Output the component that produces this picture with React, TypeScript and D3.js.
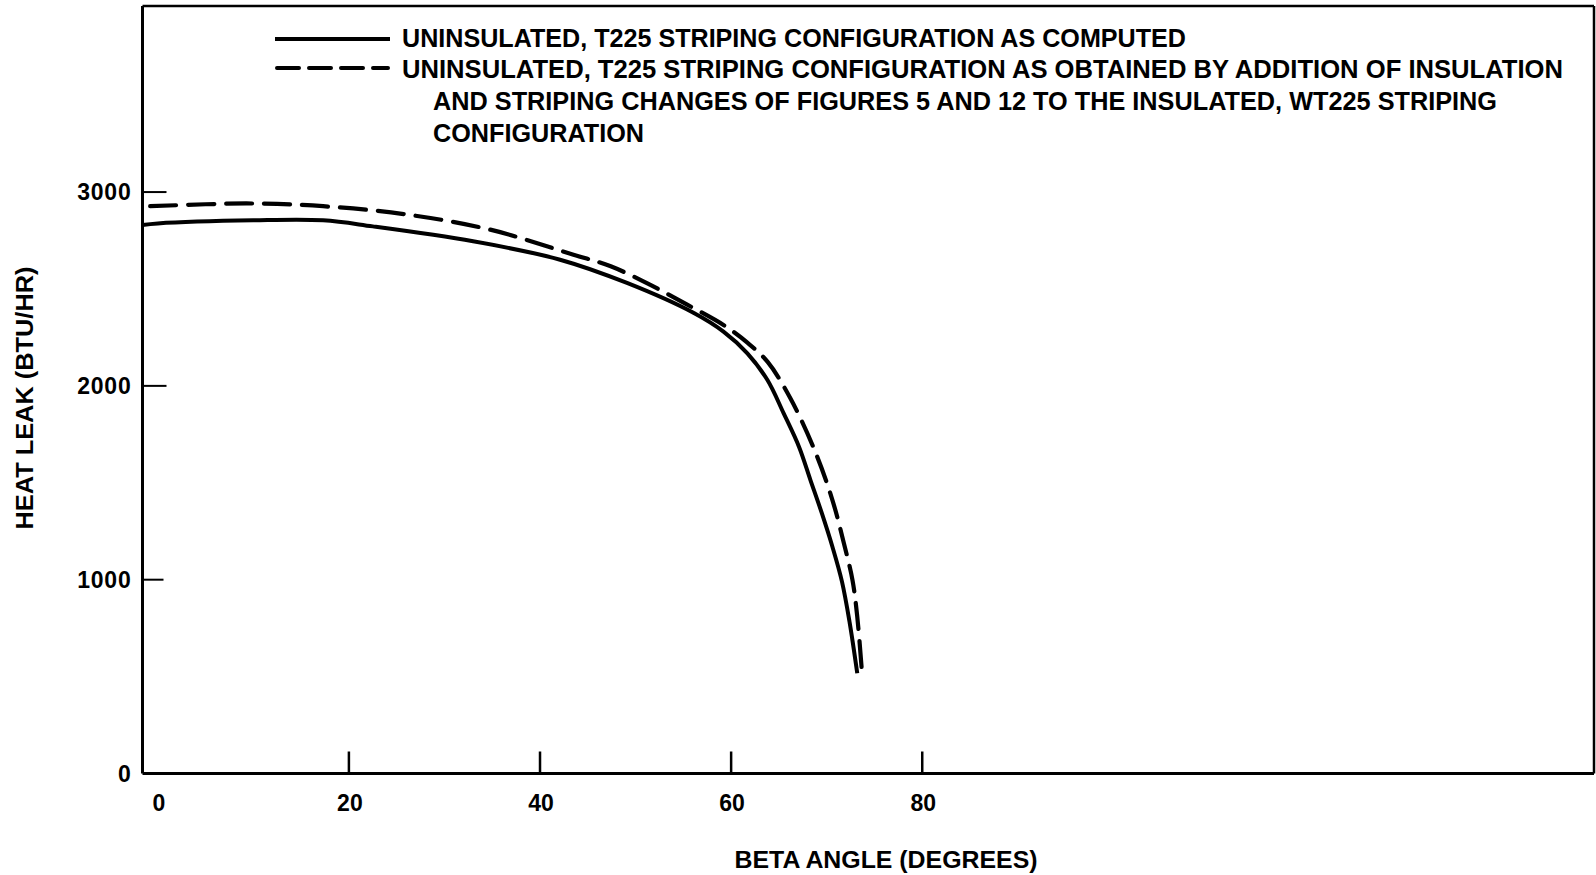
import { useEffect, useRef } from "react";
import * as d3 from "d3";

// ── Data ─────────────────────────────────────────────────────────────────────
// Solid: uninsulated T225, as computed
const solidBeta = [-1.6, 0, 10, 17.3, 22.5, 33, 42.1, 49.1, 56.1, 59.2, 61.7, 63.8, 65.5, 67.1, 68.3, 69.5, 70.6, 71.6, 72.4, 73.2];
const solidHeat = [2830, 2838, 2854, 2854, 2823, 2746, 2651, 2531, 2376, 2280, 2168, 2030, 1858, 1686, 1514, 1342, 1170, 990, 780, 517];

// Dashed: uninsulated T225, obtained from insulated WT225
const dashedBeta = [-0.8, 5, 10, 17.3, 26.1, 34.8, 43.5, 47.4, 51.5, 55.4, 59.2, 61.7, 63.8, 66.2, 68.8, 70.6, 71.8, 72.7, 73.2, 73.7];
const dashedHeat = [2927, 2937, 2941, 2927, 2884, 2806, 2677, 2617, 2522, 2419, 2314, 2223, 2125, 1936, 1660, 1411, 1188, 998, 809, 517];

const xTickValues = [0, 20, 40, 60, 80];
const xTickMarks = [20, 40, 60, 80];
const yTickValues = [0, 1000, 2000, 3000];

const legendSolid = ["UNINSULATED, T225 STRIPING CONFIGURATION AS COMPUTED"];
const legendDashed = [
  "UNINSULATED, T225 STRIPING CONFIGURATION AS OBTAINED BY ADDITION OF INSULATION",
  "AND STRIPING CHANGES OF FIGURES 5 AND 12 TO THE INSULATED, WT225 STRIPING",
  "CONFIGURATION",
];

const W = 1596;
const H = 875;
const FONT = "'Liberation Sans', Arial, Helvetica, sans-serif";
const DASH = "26,12";

export default function App() {
  const svgRef = useRef<SVGSVGElement>(null);

  useEffect(() => {
    const svg = d3.select(svgRef.current);
    svg.selectAll("*").remove();

    const x = d3.scaleLinear().domain([-1.6, 150.3]).range([142.5, 1594]);
    const y = d3.scaleLinear().domain([0, 3960]).range([773.5, 6]);
    const [x0, x1] = x.range();
    const [y0, y1] = y.range();

    // ── Frame ────────────────────────────────────────────────────────────────
    const frame = svg.append("g").attr("stroke", "#000").attr("fill", "none");
    frame.append("line").attr("x1", x0).attr("x2", x0).attr("y1", y1).attr("y2", y0).attr("stroke-width", 3);
    frame.append("line").attr("x1", x0).attr("x2", x1).attr("y1", y0).attr("y2", y0).attr("stroke-width", 3);
    frame.append("line").attr("x1", x0).attr("x2", x1).attr("y1", y1).attr("y2", y1).attr("stroke-width", 2.5);
    frame.append("line").attr("x1", x1).attr("x2", x1).attr("y1", y1).attr("y2", y0).attr("stroke-width", 2.5);

    // ── Y ticks (inside) + labels ────────────────────────────────────────────
    svg.append("g")
      .selectAll("line")
      .data(yTickValues.filter((v) => v > 0))
      .join("line")
      .attr("x1", x0)
      .attr("x2", (v) => x0 + (v === 1000 ? 21 : 24))
      .attr("y1", (v) => y(v))
      .attr("y2", (v) => y(v))
      .attr("stroke", "#000")
      .attr("stroke-width", 2);

    svg.append("g")
      .selectAll("text")
      .data(yTickValues)
      .join("text")
      .attr("x", x0 - 11)
      .attr("y", (v) => y(v) + 8)
      .attr("text-anchor", "end")
      .attr("font-family", FONT)
      .attr("font-weight", "700")
      .attr("font-size", 23)
      .attr("letter-spacing", 0.8)
      .text((v) => String(v));

    // ── X ticks (pointing up) + labels ───────────────────────────────────────
    svg.append("g")
      .selectAll("line")
      .data(xTickMarks)
      .join("line")
      .attr("x1", (v) => x(v))
      .attr("x2", (v) => x(v))
      .attr("y1", y0)
      .attr("y2", y0 - 22)
      .attr("stroke", "#000")
      .attr("stroke-width", 2.5);

    svg.append("g")
      .selectAll("text")
      .data(xTickValues)
      .join("text")
      .attr("x", (v) => x(v) + 1)
      .attr("y", y0 + 37)
      .attr("text-anchor", "middle")
      .attr("font-family", FONT)
      .attr("font-weight", "700")
      .attr("font-size", 23)
      .text((v) => String(v));

    // ── Axis titles ──────────────────────────────────────────────────────────
    svg.append("text")
      .attr("x", 886)
      .attr("y", 868)
      .attr("text-anchor", "middle")
      .attr("font-family", FONT)
      .attr("font-weight", "700")
      .attr("font-size", 24)
      .attr("textLength", 303)
      .attr("lengthAdjust", "spacingAndGlyphs")
      .text("BETA ANGLE (DEGREES)");

    svg.append("text")
      .attr("transform", "translate(33,398) rotate(-90)")
      .attr("text-anchor", "middle")
      .attr("font-family", FONT)
      .attr("font-weight", "700")
      .attr("font-size", 24)
      .attr("textLength", 263)
      .attr("lengthAdjust", "spacingAndGlyphs")
      .text("HEAT LEAK (BTU/HR)");

    // ── Curves ───────────────────────────────────────────────────────────────
    const line = d3.line<[number, number]>()
      .x((d) => x(d[0]))
      .y((d) => y(d[1]))
      .curve(d3.curveCatmullRom.alpha(0.5));

    const solid = solidBeta.map((b, i) => [b, solidHeat[i]] as [number, number]);
    const dashed = dashedBeta.map((b, i) => [b, dashedHeat[i]] as [number, number]);

    svg.append("path")
      .attr("d", line(solid) ?? "")
      .attr("fill", "none")
      .attr("stroke", "#000")
      .attr("stroke-width", 4);

    svg.append("path")
      .attr("d", line(dashed) ?? "")
      .attr("fill", "none")
      .attr("stroke", "#000")
      .attr("stroke-width", 4.2)
      .attr("stroke-linecap", "round")
      .attr("stroke-dasharray", DASH);

    // ── Legend ───────────────────────────────────────────────────────────────
    const lg = svg.append("g").attr("font-family", FONT).attr("font-weight", "700").attr("font-size", 25);
    lg.append("line").attr("x1", 275).attr("x2", 390).attr("y1", 39).attr("y2", 39)
      .attr("stroke", "#000").attr("stroke-width", 4);
    lg.append("line").attr("x1", 277).attr("x2", 388).attr("y1", 68).attr("y2", 68)
      .attr("stroke", "#000").attr("stroke-width", 4).attr("stroke-linecap", "round")
      .attr("stroke-dasharray", "22,10");

    const legendRows = [
      { text: legendSolid[0], x: 402, y: 47, len: 784 },
      { text: legendDashed[0], x: 402, y: 78, len: 1161 },
      { text: legendDashed[1], x: 433, y: 110, len: 1064 },
      { text: legendDashed[2], x: 433, y: 142, len: 211 },
    ];
    lg.selectAll("text")
      .data(legendRows)
      .join("text")
      .attr("x", (d) => d.x)
      .attr("y", (d) => d.y)
      .attr("textLength", (d) => d.len)
      .attr("lengthAdjust", "spacingAndGlyphs")
      .text((d) => d.text);
  }, []);

  return (
    <div style={{ position: "absolute", left: 0, top: 0, width: W, height: H, background: "#fff" }}>
      <svg ref={svgRef} width={W} height={H} style={{ display: "block" }} />
    </div>
  );
}
